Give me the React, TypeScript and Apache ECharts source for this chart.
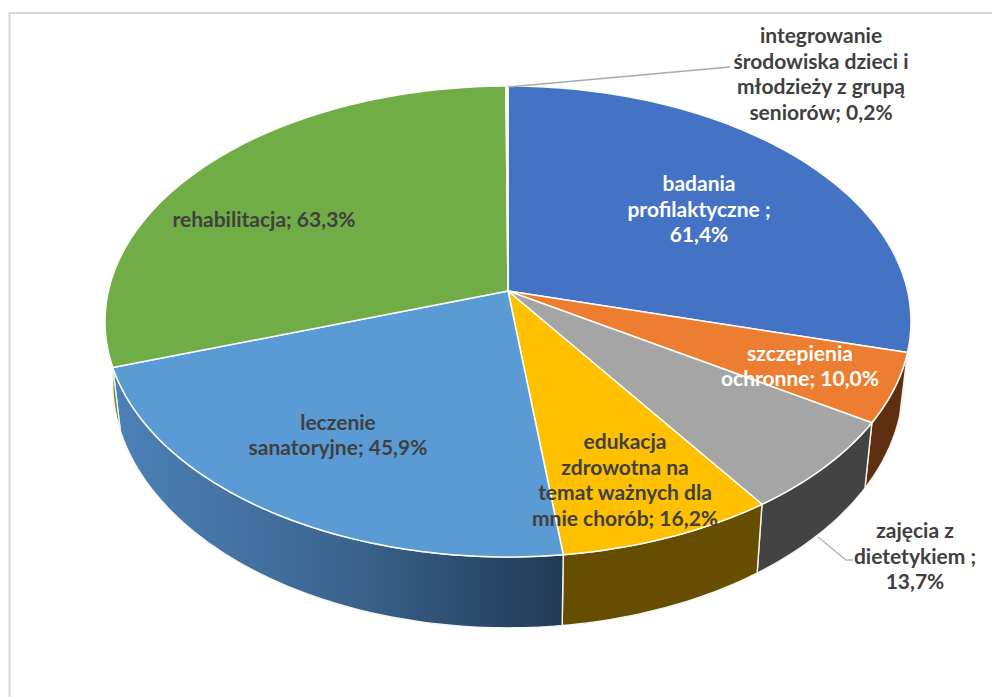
import React, { useEffect, useRef } from "react";
import * as echarts from "echarts";

const categories = [
  "badania profilaktyczne",
  "szczepienia ochronne",
  "zajęcia z dietetykiem",
  "edukacja zdrowotna na temat ważnych dla mnie chorób",
  "leczenie sanatoryjne",
  "rehabilitacja",
  "integrowanie środowiska dzieci i młodzieży z grupą seniorów",
];
const values = [61.4, 10.0, 13.7, 16.2, 45.9, 63.3, 0.2];
const labels = [
  "badania\nprofilaktyczne ;\n61,4%",
  "szczepienia\nochronne; 10,0%",
  "zajęcia z\ndietetykiem ;\n13,7%",
  "edukacja\nzdrowotna na\ntemat ważnych dla\nmnie chorób; 16,2%",
  "leczenie\nsanatoryjne; 45,9%",
  "rehabilitacja; 63,3%",
  "integrowanie\nśrodowiska dzieci i\nmłodzieży z grupą\nseniorów; 0,2%",
];

const topColors = ["#4472C4", "#ED7D31", "#A5A5A5", "#FFC000", "#5B9BD5", "#70AD47", "#f4f4f0"];
const sideColors: any[] = [
  "#2a4476",
  "#5f300f",
  "#434343",
  "#664d00",
  { type: "linear", x: 112, y: 0, x2: 563, y2: 0, global: true, colorStops: [
    { offset: 0, color: "#4c81b8" },
    { offset: 0.5, color: "#3c6691" },
    { offset: 1, color: "#213a53" },
  ] },
  "#5f9339",
  "#1a2d50",
];
const labelColors = ["#ffffff", "#ffffff", "#404040", "#404040", "#404040", "#404040", "#404040"];
const labelAnchors = [
  [699, 208], [800, 365], [915, 555], [625, 479], [338, 434], [264, 218], [821, 73],
];

// Perspective projection of the pie's top and bottom discs
const K = 0.1295;
const APEX_X = 508;
const TOP = { a: 399.6, b: 231.5, y0: 291 };
const BOTTOM = { a: 392, b: 241, y0: 351 };
const total = values.reduce((s, v) => s + v, 0);
const starts: number[] = [];
values.reduce((s, v, i) => {
  starts[i] = s;
  return s + v;
}, 0);

function project(disc: typeof TOP, theta: number) {
  const u = Math.sin(theta);
  const v = -Math.cos(theta);
  const w = 1 - K * v;
  return [APEX_X + (disc.a * u) / w, disc.y0 + (disc.b * v) / w];
}
function arc(disc: typeof TOP, from: number, to: number) {
  const n = Math.max(2, Math.ceil(((to - from) / (2 * Math.PI)) * 360));
  const pts: number[][] = [];
  for (let i = 0; i <= n; i++) pts.push(project(disc, from + ((to - from) * i) / n));
  return pts;
}
const angle = (s: number) => (s / total) * 2 * Math.PI;

export default function App() {
  const ref = useRef<HTMLDivElement>(null);
  useEffect(() => {
    if (!ref.current) return;
    const chart = echarts.init(ref.current, undefined, { renderer: "svg" });
    const data = values.map((v, i) => ({ name: categories[i], value: [v, i] }));
    chart.setOption({
      animation: false,
      backgroundColor: "#ffffff",
      graphic: [
        {
          type: "polyline",
          silent: true,
          z: 1,
          shape: { points: [[9.5, 697], [9.5, 13], [992, 13]] },
          style: { fill: "none", stroke: "#d6d6d6", lineWidth: 2 },
        },
        {
          type: "polyline",
          silent: true,
          z: 20,
          shape: { points: [[508, 87], [730, 67]] },
          style: { fill: "none", stroke: "#a9a9a9", lineWidth: 1.3 },
        },
        {
          type: "polyline",
          silent: true,
          z: 20,
          shape: { points: [[818, 537], [846, 560], [853, 560]] },
          style: { fill: "none", stroke: "#b4b4b4", lineWidth: 1.3 },
        },
      ],
      series: [
        {
          type: "custom",
          coordinateSystem: "none",
          z: 5,
          silent: true,
          data,
          renderItem: (_p: any, api: any) => {
            const i = api.value(1);
            const from = angle(starts[i]);
            const to = angle(starts[i] + api.value(0));
            const pts = arc(TOP, from, to).concat(arc(BOTTOM, from, to).reverse());
            return {
              type: "polygon",
              shape: { points: pts },
              style: { fill: sideColors[i], stroke: "#f4f4f0", lineWidth: 1.4 },
            };
          },
        },
        {
          type: "custom",
          coordinateSystem: "none",
          z: 10,
          silent: true,
          data,
          renderItem: (_p: any, api: any) => {
            const i = api.value(1);
            const from = angle(starts[i]);
            const to = angle(starts[i] + api.value(0));
            const pts = [[APEX_X, TOP.y0], ...arc(TOP, from, to)];
            return {
              type: "polygon",
              shape: { points: pts },
              style: { fill: topColors[i], stroke: "#fdfdf8", lineWidth: 1.5, lineJoin: "round" },
            };
          },
        },
        {
          type: "custom",
          coordinateSystem: "none",
          z: 30,
          silent: true,
          data,
          renderItem: (_p: any, api: any) => {
            const i = api.value(1);
            return {
              type: "text",
              z2: 30,
              style: {
                x: labelAnchors[i][0],
                y: labelAnchors[i][1],
                text: labels[i],
                fill: labelColors[i],
                font: "bold 21px Lato",
                lineHeight: 25.5,
                align: "center",
                verticalAlign: "middle",
              },
            };
          },
        },
      ],
    });
    return () => chart.dispose();
  }, []);
  return (
    <div
      ref={ref}
      style={{ position: "fixed", left: 0, top: 0, width: 992, height: 697, background: "#fff" }}
    />
  );
}
